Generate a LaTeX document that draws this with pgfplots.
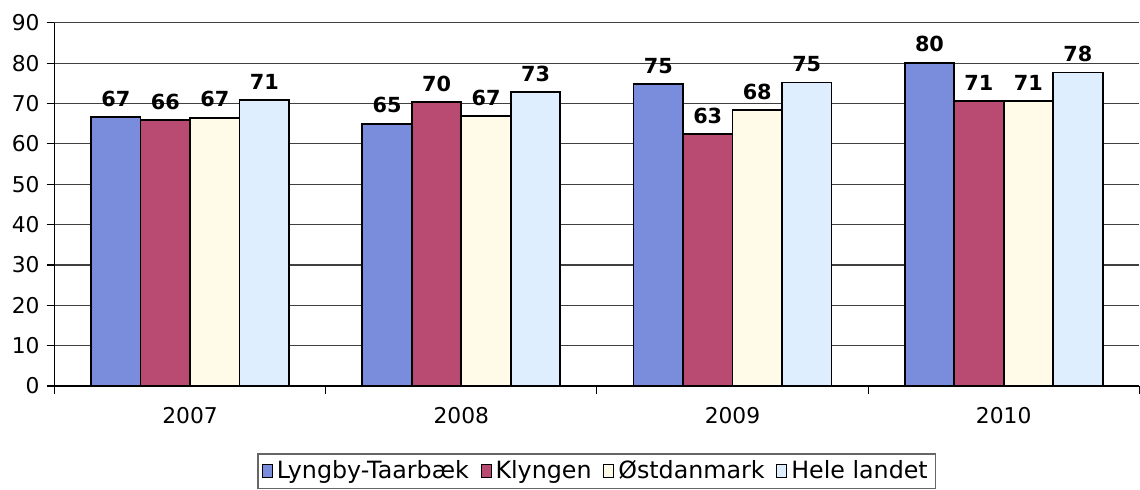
\documentclass[border=0pt]{standalone}
\usepackage{fontspec}
\setmainfont{DejaVu Sans}
\usepackage{pgfplots}
\pgfplotsset{compat=1.18}
\definecolor{cLyn}{RGB}{122,140,220}
\definecolor{cKly}{RGB}{185,74,114}
\definecolor{cOst}{RGB}{255,251,232}
\definecolor{cHel}{RGB}{222,238,255}
\begin{document}
\begin{tikzpicture}
\begin{axis}[
  scale only axis,
  width=548pt, height=183.5pt,
  xmin=-0.5, xmax=3.5, ymin=0, ymax=90,
  ybar=0pt, bar width=25pt,
  xtick={0,1,2,3},
  xticklabels={2007,2008,2009,2010},
  minor xtick={-0.5,0.5,1.5,2.5,3.5},
  major x tick style={draw=none},
  minor tick length=4pt,
  ytick={0,10,...,90},
  ymajorgrids, grid style={black!75, line width=0.6pt},
  axis x line*=bottom, axis y line*=left,
  axis line style={-, black, line width=0.7pt},
  tick align=outside, major tick length=4pt,
  tick style={black, line width=0.6pt},
  /pgf/number format/assume math mode=true,
  tick label style={font=\fontsize{11}{13}\selectfont},
  xticklabel style={yshift=-3pt},
  every axis plot/.append style={draw=black, line width=0.9pt},
  nodes near coords={\pgfmathprintnumber[fixed,precision=0]{\pgfplotspointmeta}},
  nodes near coords style={font=\bfseries\fontsize{10.5}{12}\selectfont, black, yshift=1.5pt},
  legend style={at={(0.5,0)}, anchor=north, yshift=-34pt, legend columns=4,
    draw=black!60, line width=0.6pt, font=\fontsize{12}{14}\selectfont,
    inner xsep=2pt, inner ysep=1.5pt,
    /tikz/every even column/.append style={column sep=4pt}},
  legend image code/.code={\draw[#1, draw=black, line width=0.5pt] (0pt,-3.3pt) rectangle (5pt,3.3pt);},
  clip=false,
]
\addplot[fill=cLyn] coordinates {(0,66.7) (1,65.0) (2,74.8) (3,80.1)};
\addplot[fill=cKly] coordinates {(0,65.9) (1,70.3) (2,62.5) (3,70.6)};
\addplot[fill=cOst] coordinates {(0,66.5) (1,66.9) (2,68.4) (3,70.6)};
\addplot[fill=cHel] coordinates {(0,70.8) (1,72.8) (2,75.2) (3,77.7)};
\legend{Lyngby-Taarbæk, Klyngen, Østdanmark, Hele landet}
\end{axis}
\path[use as bounding box] ([xshift=-27.5pt,yshift=-50.5pt]current axis.south west) rectangle ([xshift=-4.5pt,yshift=11.5pt]current axis.north east);
\end{tikzpicture}
\end{document}
